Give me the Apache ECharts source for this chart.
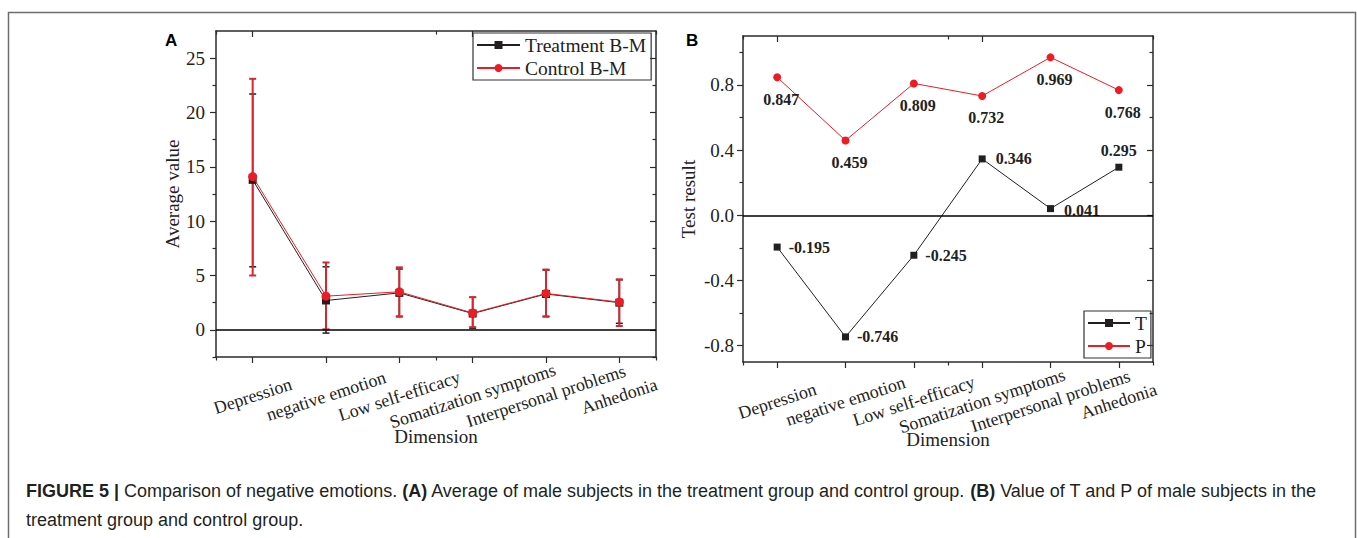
<!DOCTYPE html>
<html>
<head>
<meta charset="utf-8">
<script src="https://cdn.jsdelivr.net/npm/echarts@6/dist/echarts.min.js"></script>
<style>
html,body{margin:0;padding:0;background:#fff;}
#c{width:1357px;height:538px;}
</style>
</head>
<body>
<div id="c"></div>
<script>
// ---- data ----
const categories = ['Depression', 'negative emotion', 'Low self-efficacy', 'Somatization symptoms', 'Interpersonal problems', 'Anhedonia'];
const treatMean = [13.8, 2.7, 3.4, 1.5, 3.3, 2.5];
const treatLow  = [5.8, -0.3, 1.2, 0.15, 1.2, 0.6];
const treatHigh = [21.7, 5.8, 5.6, 3.0, 5.5, 4.6];
const ctrlMean  = [14.1, 3.1, 3.5, 1.55, 3.35, 2.55];
const ctrlLow   = [5.0, 0.05, 1.25, 0.25, 1.25, 0.35];
const ctrlHigh  = [23.1, 6.2, 5.75, 3.0, 5.55, 4.65];
const tValues = [-0.195, -0.746, -0.245, 0.346, 0.041, 0.295];
const pValues = [0.847, 0.459, 0.809, 0.732, 0.969, 0.768];
const yTicksA = [0, 5, 10, 15, 20, 25];
const yMinorA = [-2.5, 2.5, 7.5, 12.5, 17.5, 22.5];
const yTicksB = [-0.8, -0.4, 0, 0.4, 0.8];
const yMinorB = [-0.6, -0.2, 0.2, 0.6, 1.0];
const captionText = '{b|FIGURE 5 |} Comparison of negative emotions. {b|(A)} Average of male subjects in the treatment group and control group. {b|(B)} Value of T and P of male subjects in the\ntreatment group and control group.';

// ---- styles ----
const SERIF = 'Liberation Serif';
const SANS = 'Liberation Sans';
const AX = '#2b2b2b';
const BLACK = '#231f20';
const RED = '#ed1c24';
const RED_ERR = '#d9262e';

function xAxes(gridIndex, nameGap) {
  const base = {type: 'category', data: categories, gridIndex, boundaryGap: true};
  return [
    Object.assign({}, base, {
      position: 'bottom',
      axisLine: {show: true, onZero: false, lineStyle: {color: AX, width: 1.5}},
      axisTick: {show: true, alignWithLabel: true, inside: false, length: 6, lineStyle: {color: AX, width: 1.2}},
      axisLabel: {show: true, interval: 0, rotate: 18, align: 'center', verticalAlign: 'middle', margin: 39,
        fontFamily: SERIF, fontSize: 18, color: '#222'},
      name: 'Dimension', nameLocation: 'middle', nameGap, nameMoveOverlap: false,
      nameTextStyle: {fontFamily: SERIF, fontSize: 19, color: '#222'},
      splitLine: {show: false}
    }),
    Object.assign({}, base, {
      position: 'bottom',
      axisLine: {show: false, onZero: false},
      axisTick: {show: true, alignWithLabel: false, inside: false, length: 3.5, lineStyle: {color: AX, width: 1.2}},
      axisLabel: {show: false}, splitLine: {show: false}
    }),
    Object.assign({}, base, {
      position: 'top',
      axisLine: {show: true, onZero: false, lineStyle: {color: AX, width: 1.5}},
      axisTick: {show: true, alignWithLabel: true, inside: true, length: 6, lineStyle: {color: AX, width: 1.2}},
      axisLabel: {show: false}, splitLine: {show: false}
    }),
    Object.assign({}, base, {
      position: 'top',
      axisLine: {show: false, onZero: false},
      axisTick: {show: true, alignWithLabel: false, inside: true, length: 3.5, lineStyle: {color: AX, width: 1.2}},
      axisLabel: {show: false}, splitLine: {show: false}
    })
  ];
}

function yAxes(gridIndex, min, max, major, minor, name, nameGap, margin, fmt) {
  const base = {type: 'value', gridIndex, min, max, splitLine: {show: false}};
  return [
    Object.assign({}, base, {
      position: 'left',
      axisLine: {show: true, onZero: false, lineStyle: {color: AX, width: 1.5}},
      axisTick: {show: true, inside: false, length: 6, customValues: major, lineStyle: {color: AX, width: 1.2}},
      axisLabel: {show: true, customValues: major, margin, fontFamily: SERIF, fontSize: 19, color: '#222', formatter: fmt},
      name, nameLocation: 'middle', nameGap, nameMoveOverlap: false,
      nameTextStyle: {fontFamily: SERIF, fontSize: 19, color: '#222'}
    }),
    Object.assign({}, base, {
      position: 'left',
      axisLine: {show: false},
      axisTick: {show: true, inside: false, length: 3.5, customValues: minor, lineStyle: {color: AX, width: 1.2}},
      axisLabel: {show: false}
    }),
    Object.assign({}, base, {
      position: 'right',
      axisLine: {show: true, onZero: false, lineStyle: {color: AX, width: 1.5}},
      axisTick: {show: true, inside: true, length: 6, customValues: major, lineStyle: {color: AX, width: 1.2}},
      axisLabel: {show: false}
    }),
    Object.assign({}, base, {
      position: 'right',
      axisLine: {show: false},
      axisTick: {show: true, inside: true, length: 3.5, customValues: minor, lineStyle: {color: AX, width: 1.2}},
      axisLabel: {show: false}
    })
  ];
}

function errorSeries(name, low, high, color, width, xi, yi) {
  return {
    name, type: 'custom', xAxisIndex: xi, yAxisIndex: yi, z: 3,
    data: categories.map((c, i) => [i, low[i], high[i]]),
    encode: {x: 0, y: [1, 2]},
    renderItem: function (params, api) {
      const i = api.value(0);
      const lo = api.coord([i, api.value(1)]);
      const hi = api.coord([i, api.value(2)]);
      const cw = 3.5;
      const st = {stroke: color, lineWidth: width};
      return {
        type: 'group',
        children: [
          {type: 'line', shape: {x1: lo[0], y1: lo[1], x2: hi[0], y2: hi[1]}, style: st},
          {type: 'line', shape: {x1: lo[0] - cw, y1: lo[1], x2: lo[0] + cw, y2: lo[1]}, style: st},
          {type: 'line', shape: {x1: hi[0] - cw, y1: hi[1], x2: hi[0] + cw, y2: hi[1]}, style: st}
        ]
      };
    }
  };
}

const zeroLine = {
  silent: true, symbol: 'none', label: {show: false},
  lineStyle: {color: '#000', type: 'solid', width: 1.5},
  data: [{yAxis: 0}]
};

const tData = tValues.map((v, i) => {
  if (i === tValues.length - 1) return {value: v, label: {position: 'top', distance: 5}};
  if (i === 4) return {value: v, label: {offset: [2, 2]}};
  if (i === 3) return {value: v, label: {offset: [2, 0]}};
  return v;
});

const option = {
  animation: false,
  backgroundColor: '#fff',
  grid: [
    {left: 216, top: 31, width: 440, height: 326},
    {left: 743, top: 36, width: 410, height: 326}
  ],
  xAxis: xAxes(0, 70).concat(xAxes(1, 68)),
  yAxis: yAxes(0, -2.5, 27.5, yTicksA, yMinorA, 'Average value', 34, 11, v => String(v))
    .concat(yAxes(1, -0.9, 1.1, yTicksB, yMinorB, 'Test result', 45, 9, v => v.toFixed(1))),
  legend: [
    {
      data: ['Treatment B-M', 'Control B-M'], orient: 'vertical', left: 473, top: 33,
      itemWidth: 43, itemHeight: 10, itemGap: 3, padding: [2, 5, 2, 3],
      borderColor: '#333', borderWidth: 1.2, borderRadius: 0,
      textStyle: {fontFamily: SERIF, fontSize: 19.5, color: '#222'}
    },
    {
      data: ['T', 'P'], orient: 'vertical', left: 1084, top: 311,
      itemWidth: 42, itemHeight: 10, itemGap: 3, padding: [2, 4, 2, 3],
      borderColor: '#333', borderWidth: 1.2, borderRadius: 0,
      textStyle: {fontFamily: SERIF, fontSize: 19.5, color: '#222'}
    }
  ],
  series: [
    errorSeries('Treatment err', treatLow, treatHigh, BLACK, 1.5, 0, 0),
    {
      name: 'Treatment B-M', type: 'line', xAxisIndex: 0, yAxisIndex: 0, data: treatMean,
      symbol: 'rect', symbolSize: 8, itemStyle: {color: BLACK}, lineStyle: {color: BLACK, width: 1}, z: 4,
      markLine: zeroLine
    },
    errorSeries('Control err', ctrlLow, ctrlHigh, RED_ERR, 2, 0, 0),
    {
      name: 'Control B-M', type: 'line', xAxisIndex: 0, yAxisIndex: 0, data: ctrlMean,
      symbol: 'circle', symbolSize: 9, itemStyle: {color: RED}, lineStyle: {color: RED, width: 1}, z: 5
    },
    {
      name: 'T', type: 'line', xAxisIndex: 4, yAxisIndex: 4, data: tData,
      symbol: 'rect', symbolSize: 7, itemStyle: {color: BLACK}, lineStyle: {color: BLACK, width: 1},
      label: {show: true, position: 'right', distance: 8, fontFamily: SERIF, fontWeight: 'bold', fontSize: 16, color: '#222',
        formatter: p => p.value.toFixed(3)},
      markLine: zeroLine
    },
    {
      name: 'P', type: 'line', xAxisIndex: 4, yAxisIndex: 4, data: pValues,
      symbol: 'circle', symbolSize: 8, itemStyle: {color: RED}, lineStyle: {color: RED, width: 1},
      label: {show: true, position: 'bottom', distance: 10, offset: [4, 0], fontFamily: SERIF, fontWeight: 'bold', fontSize: 16, color: '#222',
        formatter: p => p.value.toFixed(3)}
    }
  ],
  graphic: [
    {type: 'polyline', silent: true, shape: {points: [[8.5, 540], [8.5, 12.5], [1355.5, 12.5], [1355.5, 540]]},
      style: {stroke: '#6d6d6d', lineWidth: 1.5, fill: null}},
    {type: 'text', left: 165, top: 32, style: {text: 'A', fontFamily: SANS, fontWeight: 'bold', fontSize: 17, fill: '#000'}},
    {type: 'text', left: 686, top: 32, style: {text: 'B', fontFamily: SANS, fontWeight: 'bold', fontSize: 17, fill: '#000'}},
    {type: 'text', left: 26, top: 476, style: {
      text: captionText, fontFamily: SANS, fontSize: 18, fill: '#231f20', lineHeight: 29,
      rich: {b: {fontFamily: SANS, fontSize: 18, fontWeight: 'bold', fill: '#231f20', lineHeight: 29}}
    }}
  ]
};

const chart = echarts.init(document.getElementById('c'), null, {renderer: 'svg'});
chart.setOption(option);
</script>
</body>
</html>
